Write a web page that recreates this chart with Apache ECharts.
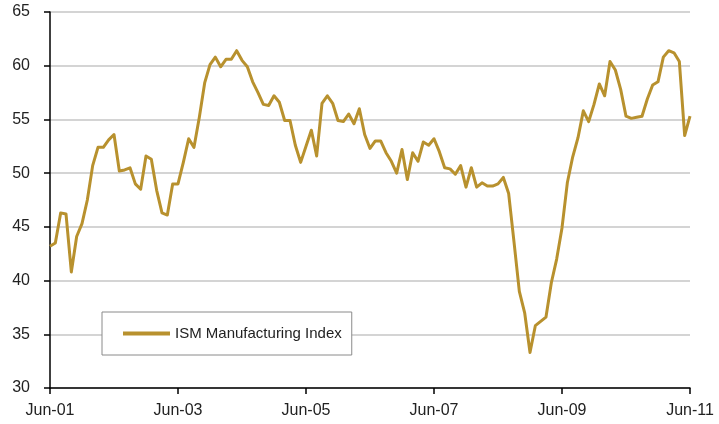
<!DOCTYPE html>
<html>
<head>
<meta charset="utf-8">
<script src="https://cdn.jsdelivr.net/npm/echarts@6/dist/echarts.min.js"></script>
<style>
  html, body { margin: 0; padding: 0; background: #fff; }
  #chart { width: 719px; height: 424px; }
</style>
</head>
<body>
<div id="chart"></div>
<script>
// monthly ISM readings, Jun-01 .. Jun-11
const ismValues = [
  43.2, 43.5, 46.3, 46.2, 40.8, 44.1, 45.3,
  47.5, 50.7, 52.4, 52.4, 53.1, 53.6, 50.2, 50.3, 50.5, 49.0, 48.5, 51.6,
  51.3, 48.4, 46.3, 46.1, 49.0, 49.0, 51.0, 53.2, 52.4, 55.2, 58.4, 60.1,
  60.8, 59.9, 60.6, 60.6, 61.4, 60.5, 59.9, 58.5, 57.5, 56.4, 56.3, 57.2,
  56.6, 54.9, 54.9, 52.6, 51.0, 52.5, 54.0, 51.6, 56.5, 57.2, 56.5, 54.9,
  54.8, 55.5, 54.6, 56.0, 53.6, 52.3, 53.0, 53.0, 51.9, 51.1, 50.0, 52.2,
  49.4, 51.9, 51.1, 52.9, 52.6, 53.2, 52.0, 50.5, 50.4, 49.9, 50.7, 48.7,
  50.5, 48.7, 49.1, 48.8, 48.8, 49.0, 49.6, 48.1, 43.6, 39.0, 37.0, 33.3,
  35.8, 36.2, 36.6, 39.8, 42.0, 44.9, 49.1, 51.5, 53.3, 55.8, 54.8, 56.4,
  58.3, 57.2, 60.4, 59.6, 57.8, 55.3, 55.1, 55.2, 55.3, 56.9, 58.2, 58.5,
  60.8, 61.4, 61.2, 60.4, 53.5, 55.3
];
const monthNames = ['Jan','Feb','Mar','Apr','May','Jun','Jul','Aug','Sep','Oct','Nov','Dec'];
const tickLabels = ['Jun-01', 'Jun-03', 'Jun-05', 'Jun-07', 'Jun-09', 'Jun-11'];
const seriesName = 'ISM Manufacturing Index';

// month categories starting at Jun 2001
const months = [];
for (let i = 0; i < ismValues.length; i++) {
  const m = (5 + i) % 12;
  const y = 1 + Math.floor((5 + i) / 12);
  months.push(monthNames[m] + '-' + String(y).padStart(2, '0'));
}

const font = 'Liberation Sans';
const chart = echarts.init(document.getElementById('chart'));
chart.setOption({
  animation: false,
  textStyle: { fontFamily: font },
  grid: { left: 50, right: 29, top: 12, bottom: 36 },
  legend: {
    show: true,
    data: [seriesName],
    left: 102,
    top: 312,
    orient: 'horizontal',
    icon: 'rect',
    itemWidth: 47,
    itemHeight: 4,
    padding: [14, 10, 14, 21],
    backgroundColor: '#fff',
    borderColor: '#8a8a8a',
    borderWidth: 1,
    textStyle: { fontFamily: font, fontSize: 15, color: '#222' }
  },
  xAxis: {
    type: 'category',
    data: months,
    boundaryGap: false,
    axisLine: { lineStyle: { color: '#000', width: 1.5 } },
    axisTick: { interval: 23, length: 6, lineStyle: { color: '#000', width: 1.5 } },
    axisLabel: {
      interval: 23,
      margin: 15,
      fontSize: 16,
      color: '#222',
      fontFamily: font,
      formatter: v => tickLabels.includes(v) ? v : ''
    },
    splitLine: { show: false }
  },
  yAxis: {
    type: 'value',
    min: 30,
    max: 65,
    interval: 5,
    axisLine: { show: true, lineStyle: { color: '#000', width: 1.5 } },
    axisTick: { show: true, length: 6, lineStyle: { color: '#000', width: 1.5 } },
    axisLabel: { fontSize: 16, color: '#222', margin: 20, fontFamily: font },
    splitLine: { lineStyle: { color: '#c6c6c6', width: 1.5 } }
  },
  series: [{
    name: seriesName,
    type: 'line',
    data: ismValues,
    showSymbol: false,
    symbol: 'none',
    lineStyle: { color: '#B8912E', width: 3, join: 'round' },
    itemStyle: { color: '#B8912E' }
  }]
});
</script>
</body>
</html>
